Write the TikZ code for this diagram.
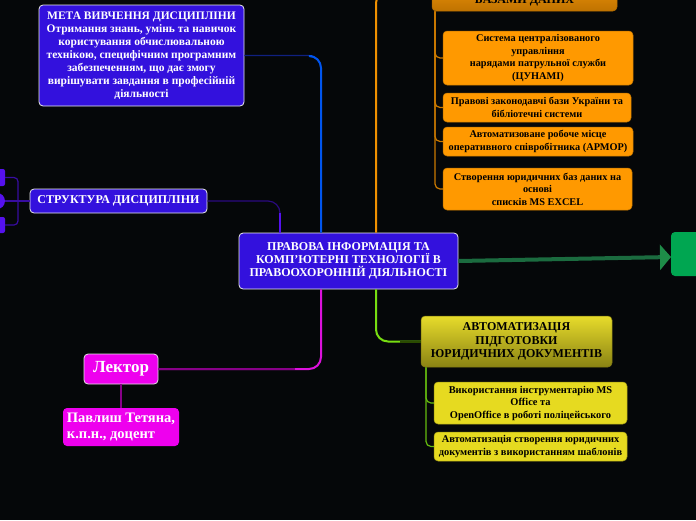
\documentclass[tikz,border=0pt]{standalone}
\usepackage{fontspec}
\setmainfont{Liberation Serif}
\usetikzlibrary{arrows.meta,shapes.geometric}
\definecolor{bgc}{HTML}{050709}
\definecolor{cblue}{HTML}{3311DD}
\definecolor{corange}{HTML}{FF9900}
\definecolor{cyellow}{HTML}{E6DA20}
\definecolor{cmag}{HTML}{EE00EE}
\definecolor{cgreen}{HTML}{00A651}
\definecolor{lblue}{HTML}{0055EE}
\definecolor{dblue}{HTML}{102080}
\definecolor{lpurple}{HTML}{5511EE}
\definecolor{dpurple}{HTML}{2A0A80}
\definecolor{lorange}{HTML}{F09000}
\definecolor{llime}{HTML}{77DD11}
\definecolor{dlime}{HTML}{2A4A00}
\definecolor{lmag}{HTML}{DD11DD}
\definecolor{dmag}{HTML}{880088}
\definecolor{lgreen}{HTML}{1B6B3F}
\definecolor{agreen}{HTML}{1E8C48}
\tikzset{
  bluebox/.style={rounded corners=4pt, inner sep=0pt, align=center, fill=cblue,
    draw=white!85!gray, line width=0.8pt, text=white,
    font=\bfseries\fontsize{12}{13}\selectfont},
  orbox/.style={rounded corners=4pt, inner sep=0pt, align=center, fill=corange,
    draw=corange!75!black, line width=0.5pt, text=black,
    font=\bfseries\fontsize{10.3}{12.5}\selectfont},
  yelbox/.style={rounded corners=4pt, inner sep=0pt, align=center, fill=cyellow,
    draw=cyellow!70!black, line width=0.5pt, text=black,
    font=\bfseries\fontsize{10.4}{12.5}\selectfont},
  magbox/.style={rounded corners=4pt, inner sep=0pt, fill=cmag, text=white},
  smallbox/.style={rounded corners=2pt, fill=lpurple, inner sep=0pt},
  conn/.style={rounded corners=12pt, line width=2pt},
}
\begin{document}
\begin{tikzpicture}[x=1pt,y=-1pt]
\useasboundingbox (0,0) rectangle (696,520);
\fill[bgc] (0,0) rectangle (696,520);
\clip (0,0) rectangle (696,520);

% attachment x positions
\coordinate (px) at (280,0);
\coordinate (bx) at (321,0);
\coordinate (ox) at (376,0);
\coordinate (obx) at (435,0);
\coordinate (ybx) at (426,0);
\coordinate (sj) at (18,201);
\coordinate (gtip) at (671,257);

% nodes
\node[bluebox, minimum width=219pt, minimum height=56pt] (c) at (348.5,261)
  {ПРАВОВА ІНФОРМАЦІЯ ТА\\КОМП'ЮТЕРНІ ТЕХНОЛОГІЇ В\\ПРАВООХОРОННІЙ ДІЯЛЬНОСТІ};
\node[bluebox, minimum width=205pt, minimum height=101pt,
  font=\bfseries\fontsize{11.5}{13}\selectfont] (meta) at (141.5,55.5)
  {МЕТА ВИВЧЕННЯ ДИСЦИПЛІНИ\\Отримання знань, умінь та навичок\\користування обчислювальною\\технікою, специфічним програмним\\забезпеченням, що дає змогу\\вирішувати завдання в професійній\\діяльності};
\node[bluebox, minimum width=177pt, minimum height=24pt] (st) at (118.5,201)
  {СТРУКТУРА ДИСЦИПЛІНИ};
\node[smallbox, minimum width=15pt, minimum height=17pt] (lt) at (-2.5,177.5) {};
\node[circle, fill=lpurple, minimum size=16pt, inner sep=0pt] (lm) at (-3,201) {};
\node[smallbox, minimum width=15pt, minimum height=16pt] (lb) at (-2.5,225) {};

\node[rounded corners=4pt, minimum width=185pt, minimum height=40pt, inner sep=0pt,
  top color=corange!95!white, bottom color=corange!75!black, draw=corange!70!black,
  line width=0.5pt] (odb) at (524.5,-9) {};
\node[anchor=base, inner sep=0pt, text=black, font=\bfseries\fontsize{12}{13}\selectfont]
  (odbt) at (524.5,3.5) {БАЗАМИ ДАНИХ};
\node[orbox, minimum width=190pt, minimum height=54pt] (oc1) at (538,58)
  {Система централізованого\\управління\\нарядами патрульної служби\\(ЦУНАМІ)};
\node[orbox, minimum width=188pt, minimum height=29pt] (oc2) at (537,107.5)
  {Правові законодавчі бази України та\\бібліотечні системи};
\node[orbox, minimum width=190pt, minimum height=29pt] (oc3) at (538,141.5)
  {Автоматизоване робоче місце\\оперативного співробітника (АРМОР)};
\node[orbox, minimum width=189pt, minimum height=42pt] (oc4) at (537.5,189)
  {Створення юридичних баз даних на\\основі\\списків MS EXCEL};

\node[rounded corners=4pt, fill=cgreen, minimum width=35pt, minimum height=44pt,
  inner sep=0pt] (gn) at (688.5,254) {};

\node[rounded corners=4pt, minimum width=191pt, minimum height=51pt, inner sep=0pt,
  top color=cyellow!95!white, bottom color=cyellow!60!black, draw=cyellow!55!black,
  line width=0.5pt, align=center, text=black,
  font=\bfseries\fontsize{12}{13.5}\selectfont] (yp) at (516.5,341.5)
  {АВТОМАТИЗАЦІЯ\\ПІДГОТОВКИ\\ЮРИДИЧНИХ ДОКУМЕНТІВ};
\node[yelbox, minimum width=193pt, minimum height=42pt] (yc1) at (530.5,403)
  {Використання інструментарію MS\\Office та\\OpenOffice в роботі поліцейського};
\node[yelbox, minimum width=193pt, minimum height=29pt] (yc2) at (530.5,446.5)
  {Автоматизація створення юридичних\\документів з використанням шаблонів};

\node[magbox, draw=white!80!gray, line width=0.8pt, minimum width=74pt, minimum height=30pt,
  font=\bfseries\fontsize{17}{19}\selectfont] (lek) at (121,369) {Лектор};
\node[magbox, minimum width=116pt, minimum height=38pt, align=left,
  font=\bfseries\fontsize{14.5}{16.5}\selectfont] (pav) at (121,427)
  {Павлиш Тетяна,\\к.п.н., доцент};

% blue: meta -> central
\draw[conn, dblue, line width=1.2pt] (meta.east) -| (c.north -| bx);
\draw[conn, lblue, line width=2pt] (312,56) -| (c.north -| bx);
% purple: structure -> central
\draw[conn, dpurple, line width=1.2pt] (st.east) -| (c.north -| px);
\draw[lpurple, line width=1.8pt] (280,213) -- (c.north -| px);
% structure -> small nodes
\draw[rounded corners=4pt, dpurple!70!lpurple, line width=1.2pt] (lt.east) -| (sj) |- (lb.east);
\draw[dpurple!70!lpurple, line width=1.2pt] (st.west) -- (lm.east);
% orange
\draw[conn, lorange] (c.north -| ox) |- (odb.west);
\foreach \t in {oc1,oc2,oc3,oc4}
  \draw[rounded corners=5pt, lorange!85!black, line width=1.2pt] (odb.south -| obx) |- (\t.west);
% green arrow
\draw[lgreen, line width=4pt, -{Triangle[length=11pt,width=25pt,color=agreen]}] (c.east) -- (gtip);
% lime
\draw[conn, llime] (c.south -| ox) |- (yp.west);
\draw[dlime, line width=2pt] (400,341.5) -- (yp.west);
\foreach \t in {yc1,yc2}
  \draw[rounded corners=5pt, llime!85!black, line width=1.2pt] (yp.south -| ybx) |- (\t.west);
% magenta
\draw[conn, lmag] (c.south -| bx) |- (lek.east);
\draw[dmag, line width=1.5pt] (295,369) -- (lek.east);
\draw[dmag, line width=1.2pt] (lek.south) -- (pav.north);
\end{tikzpicture}
\end{document}
